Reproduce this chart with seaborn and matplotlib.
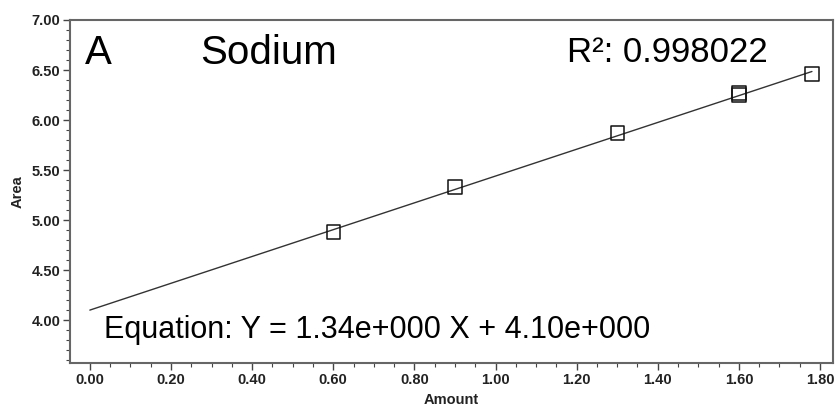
import matplotlib
matplotlib.use("Agg")
import matplotlib.pyplot as plt
from matplotlib.ticker import MultipleLocator, FormatStrFormatter
import seaborn as sns
import pandas as pd

# Data
amount = [0.60, 0.90, 1.30, 1.60, 1.60, 1.78]
area = [4.88, 5.33, 5.87, 6.25, 6.27, 6.46]
slope = 1.34
intercept = 4.10
fit_x = [0.0, 1.78]
fit_y = [intercept + slope * v for v in fit_x]
x_ticks = [0.00, 0.20, 0.40, 0.60, 0.80, 1.00, 1.20, 1.40, 1.60, 1.80]
y_ticks = [4.00, 4.50, 5.00, 5.50, 6.00, 6.50, 7.00]

sns.set_style("white")
plt.rcParams['font.family'] = ['Liberation Sans', 'DejaVu Sans']

fig = plt.figure(figsize=(8.4, 4.08), dpi=100)
ax = fig.add_axes([0.0833, 0.110, 0.9084, 0.841])

df_pts = pd.DataFrame({"Amount": amount, "Area": area})
df_fit = pd.DataFrame({"Amount": fit_x, "Area": fit_y})

sns.lineplot(data=df_fit, x="Amount", y="Area", ax=ax, color="#333333", linewidth=1.0)
sns.scatterplot(data=df_pts, x="Amount", y="Area", ax=ax, marker="s", s=90,
                facecolor="none", edgecolor="#111111", linewidth=1.1, zorder=3)

ax.set_xlim(-0.049, 1.832)
ax.set_ylim(3.57, 7.0)
ax.set_xticks(x_ticks)
ax.set_yticks(y_ticks)
ax.xaxis.set_minor_locator(MultipleLocator(0.05))
ax.yaxis.set_minor_locator(MultipleLocator(0.1))
ax.xaxis.set_major_formatter(FormatStrFormatter("%.2f"))
ax.yaxis.set_major_formatter(FormatStrFormatter("%.2f"))
ax.tick_params(axis="both", which="major", direction="out", length=5, width=1,
               color="#444444", labelsize=10.5, pad=2, bottom=True, left=True)
ax.tick_params(axis="both", which="minor", direction="out", length=3, width=0.8,
               color="#444444", bottom=True, left=True)
for lbl in ax.get_xticklabels() + ax.get_yticklabels():
    lbl.set_fontweight("bold")
    lbl.set_color("#222222")

ax.set_xlabel("Amount", fontsize=10.5, fontweight="bold", color="#222222")
ax.set_ylabel("Area", fontsize=10.5, fontweight="bold", color="#222222")
ax.xaxis.set_label_coords(0.5, -0.086)
ax.yaxis.set_label_coords(-0.060, 0.5)

for sp in ax.spines.values():
    sp.set_color("#666666")
    sp.set_linewidth(1.5)

ax.text(0.02, 0.905, "A", transform=ax.transAxes, fontsize=29, va="center", ha="left", color="black")
ax.text(0.17, 0.905, "Sodium", transform=ax.transAxes, fontsize=29, va="center", ha="left", color="black")
ax.text(0.652, 0.905, "R²: 0.998022", transform=ax.transAxes, fontsize=25, va="center", ha="left", color="black")
ax.text(0.045, 0.096, "Equation: Y = 1.34e+000 X + 4.10e+000", transform=ax.transAxes,
        fontsize=22, va="center", ha="left", color="black")

fig.savefig("out.png", dpi=100)
